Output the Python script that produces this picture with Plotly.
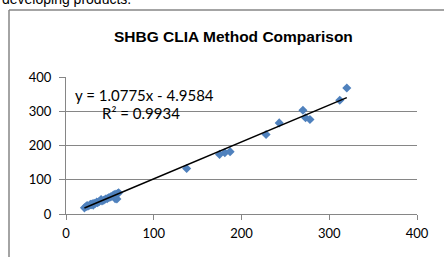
import plotly.graph_objects as go

# Data
x_vals = [21, 23, 24, 25, 27, 28, 29, 30, 31, 32, 33, 35, 36, 38, 40, 41, 43, 45, 47, 49, 51, 53, 55, 56, 57, 58, 59, 60,
          137.5, 175, 181, 187, 228, 243, 270, 273, 278, 312, 320]
y_vals = [18, 22, 25, 23, 26, 28, 27, 30, 26, 31, 30, 35, 33, 37, 42, 38, 40, 44, 45, 48, 50, 53, 57, 45, 58, 44, 60, 62,
          133, 174, 179, 182, 232, 266, 303, 281, 276, 332, 368]
slope = 1.0775
intercept = -4.9584
r2 = 0.9934
x_ticks = [0, 100, 200, 300, 400]
y_ticks = [0, 100, 200, 300, 400]

W, H = 444, 257
L, R, T, B = 66, 27, 77, 43
pw, ph = W - L - R, H - T - B

def px(x):
    return (x - L) / pw

def py(y):
    return (H - B - y) / ph

xmin, xmax = min(x_vals), max(x_vals)
fig = go.Figure()
fig.add_trace(go.Scatter(x=x_vals, y=y_vals, mode="markers",
                         marker=dict(symbol="diamond", size=7, color="#4F81BD"),
                         showlegend=False, cliponaxis=False))
fig.add_trace(go.Scatter(x=[xmin, xmax], y=[slope * xmin + intercept, slope * xmax + intercept],
                         mode="lines", line=dict(color="black", width=1.5), showlegend=False))

font_tick = dict(family="Lato, Open Sans, sans-serif", size=13, color="black")
fig.update_xaxes(range=[0, 400], tickvals=x_ticks, showgrid=False, showline=True, linecolor="#868686",
                 linewidth=1, ticks="outside", ticklen=5, tickcolor="#868686", tickfont=font_tick,
                 zeroline=False, ticklabelstandoff=2)
fig.update_yaxes(range=[0, 400], tickvals=y_ticks, showgrid=True, gridcolor="#868686", gridwidth=1,
                 showline=True, linecolor="#868686", linewidth=1, ticks="outside", ticklen=6,
                 tickcolor="#868686", tickfont=font_tick, zeroline=False, ticklabelstandoff=5)

# chart-area border (top and left edges visible; right/bottom lie outside the picture)
border = dict(color="#868686", width=1.5)
fig.add_shape(type="line", xref="paper", yref="paper", x0=px(9), x1=px(444), y0=py(10), y1=py(10),
              line=border, layer="below")
fig.add_shape(type="line", xref="paper", yref="paper", x0=px(9), x1=px(9), y0=py(10), y1=py(257),
              line=border, layer="below")

fig.add_annotation(xref="paper", yref="paper", x=px(233), y=py(36), text="<b>SHBG CLIA Method Comparison</b>",
                   showarrow=False, font=dict(family="Liberation Sans, Arial", size=15.5, color="black"),
                   xanchor="center", yanchor="middle")
fig.add_annotation(xref="paper", yref="paper", x=px(74), y=py(95), text="y = 1.0775x - 4.9584",
                   showarrow=False, font=dict(family="Lato, Open Sans, sans-serif", size=15, color="black"),
                   xanchor="left", yanchor="middle", borderpad=0)
fig.add_annotation(xref="paper", yref="paper", x=px(141), y=py(113), text="R² = 0.9934",
                   showarrow=False, font=dict(family="Lato, Open Sans, sans-serif", size=15, color="black"),
                   xanchor="center", yanchor="middle", borderpad=0)
fig.add_annotation(xref="paper", yref="paper", x=px(0), y=py(9), text="developing products.",
                   showarrow=False, font=dict(family="Liberation Sans, Arial", size=14, color="black"),
                   xanchor="left", yanchor="bottom")

fig.update_layout(width=W, height=H, margin=dict(l=L, r=R, t=T, b=B),
                  paper_bgcolor="white", plot_bgcolor="white")
fig.write_html("out.html", config={"displayModeBar": False},
               post_script="document.body.style.margin='0';document.body.style.overflow='hidden';")
